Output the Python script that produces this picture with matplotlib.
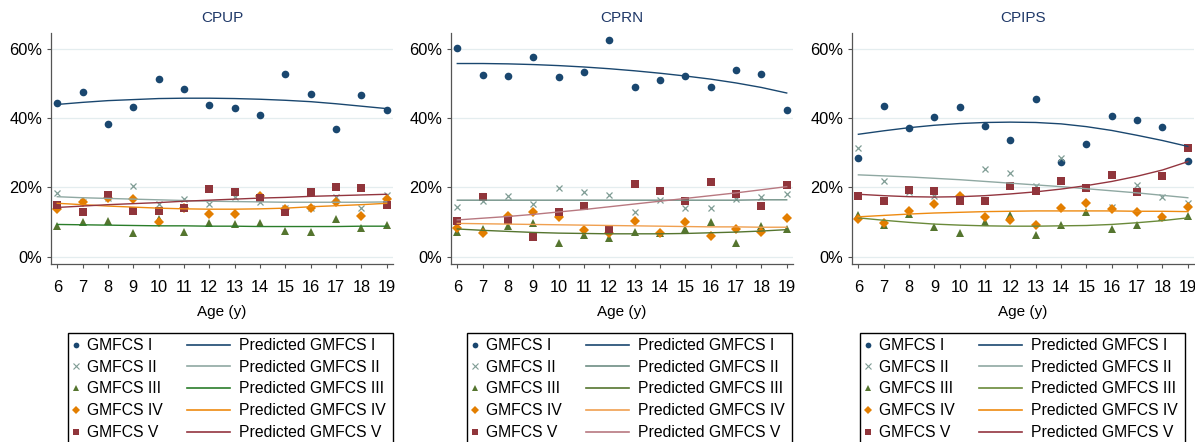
import matplotlib
matplotlib.use("Agg")
import matplotlib.pyplot as plt
from matplotlib.lines import Line2D
from matplotlib.patches import Rectangle

plt.rcParams["font.family"] = ["Liberation Sans", "DejaVu Sans"]

ages = list(range(6, 20))
groups = ["GMFCS I", "GMFCS II", "GMFCS III", "GMFCS IV", "GMFCS V"]

# CPUP
cpup_I = [44.3, 47.6, 38.2, 43.2, 51.3, 48.4, 43.7, 42.8, 40.8, 52.7, 46.9, 36.9, 46.7, 42.3]
cpup_II = [18.3, 15.8, 16.8, 20.5, 15.1, 16.7, 15.3, 17.3, 15.7, 14.1, 14.1, 17.3, 14.1, 17.8]
cpup_III = [8.9, 9.9, 10.3, 6.9, 10.9, 7.2, 9.8, 9.3, 9.6, 7.5, 7.0, 10.9, 8.2, 9.1]
cpup_IV = [13.8, 15.8, 17.0, 16.5, 10.0, 14.1, 12.4, 12.3, 17.5, 13.8, 14.1, 15.8, 11.6, 16.5]
cpup_V = [15.0, 13.0, 17.9, 13.2, 13.1, 14.1, 19.4, 18.6, 17.0, 12.8, 18.6, 20.0, 19.7, 14.8]
cpup_pI = [43.9, 44.5, 45.0, 45.3, 45.6, 45.7, 45.7, 45.6, 45.4, 45.1, 44.7, 44.1, 43.4, 42.7]
cpup_pII = [17.3, 17.0, 16.8, 16.6, 16.4, 16.2, 16.0, 15.9, 15.8, 15.7, 15.7, 15.7, 15.7, 15.8]
cpup_pIII = [9.3, 9.2, 9.1, 9.0, 8.9, 8.9, 8.8, 8.8, 8.7, 8.7, 8.7, 8.7, 8.8, 8.8]
cpup_pIV = [15.4, 15.0, 14.6, 14.3, 14.0, 13.8, 13.7, 13.7, 13.8, 14.0, 14.4, 14.7, 15.0, 15.4]
cpup_pV = [14.2, 14.6, 15.0, 15.3, 15.6, 16.0, 16.3, 16.6, 16.9, 17.1, 17.4, 17.6, 17.8, 18.0]

# CPRN
cprn_I = [60.2, 52.4, 52.2, 57.5, 51.9, 53.3, 62.4, 49.0, 51.0, 52.1, 48.8, 53.7, 52.6, 42.3]
cprn_II = [14.3, 16.1, 17.4, 15.1, 19.9, 18.6, 17.7, 12.8, 16.3, 14.1, 14.1, 16.5, 17.3, 18.1]
cprn_III = [7.2, 8.1, 8.9, 9.8, 4.0, 6.3, 5.3, 7.2, 6.8, 8.0, 9.9, 4.0, 8.9, 8.0]
cprn_IV = [8.4, 6.7, 11.6, 12.8, 11.5, 7.7, 6.9, 10.3, 6.9, 10.0, 6.1, 8.1, 7.0, 11.3]
cprn_V = [10.4, 17.2, 10.6, 5.7, 13.0, 14.7, 7.9, 21.0, 19.0, 16.1, 21.5, 18.2, 14.7, 20.7]
cprn_pI = [55.7, 55.7, 55.6, 55.4, 55.1, 54.7, 54.2, 53.6, 52.9, 52.1, 51.2, 50.1, 48.8, 47.2]
cprn_pII = [16.3, 16.3, 16.3, 16.3, 16.3, 16.3, 16.3, 16.3, 16.3, 16.3, 16.3, 16.3, 16.4, 16.4]
cprn_pIII = [8.0, 7.6, 7.3, 7.0, 6.8, 6.7, 6.6, 6.6, 6.6, 6.7, 6.9, 7.1, 7.4, 7.8]
cprn_pIV = [9.6, 9.5, 9.4, 9.3, 9.2, 9.1, 9.0, 8.9, 8.8, 8.7, 8.6, 8.6, 8.5, 8.5]
cprn_pV = [10.6, 11.1, 11.6, 12.2, 12.9, 13.6, 14.4, 15.2, 16.0, 16.8, 17.6, 18.4, 19.3, 20.2]

# CPIPS
cpips_I = [28.5, 43.4, 37.0, 40.2, 43.2, 37.8, 33.6, 45.5, 27.2, 32.6, 40.7, 39.3, 37.5, 27.6]
cpips_II = [31.4, 21.7, 18.7, 17.5, 17.3, 25.2, 24.0, 20.5, 28.5, 19.8, 14.4, 20.6, 17.1, 15.4]
cpips_III = [12.1, 9.1, 12.4, 8.6, 6.9, 9.9, 11.9, 6.4, 9.0, 13.0, 8.0, 9.1, 11.4, 11.6]
cpips_IV = [10.9, 9.8, 13.3, 15.3, 17.5, 11.5, 10.5, 9.1, 14.0, 15.4, 13.7, 12.9, 11.4, 14.4]
cpips_V = [17.6, 16.1, 19.3, 18.9, 16.1, 16.1, 20.5, 19.0, 21.9, 19.9, 23.5, 18.6, 23.2, 31.4]
cpips_pI = [35.3, 36.3, 37.2, 37.9, 38.4, 38.7, 38.8, 38.7, 38.3, 37.5, 36.4, 35.0, 33.5, 31.8]
cpips_pII = [23.6, 23.3, 23.0, 22.6, 22.2, 21.7, 21.2, 20.7, 20.2, 19.6, 19.0, 18.4, 17.7, 17.0]
cpips_pIII = [11.2, 10.5, 9.9, 9.4, 9.1, 8.9, 8.8, 8.8, 8.9, 9.0, 9.3, 9.8, 10.4, 11.2]
cpips_pIV = [11.5, 11.9, 12.3, 12.6, 12.8, 13.0, 13.1, 13.2, 13.2, 13.2, 13.2, 13.1, 13.1, 13.0]
cpips_pV = [18.0, 17.6, 17.3, 17.2, 17.3, 17.6, 18.1, 18.7, 19.5, 20.5, 21.7, 23.2, 25.0, 27.4]

panels = [
    ("CPUP", [cpup_I, cpup_II, cpup_III, cpup_IV, cpup_V],
     [cpup_pI, cpup_pII, cpup_pIII, cpup_pIV, cpup_pV]),
    ("CPRN", [cprn_I, cprn_II, cprn_III, cprn_IV, cprn_V],
     [cprn_pI, cprn_pII, cprn_pIII, cprn_pIV, cprn_pV]),
    ("CPIPS", [cpips_I, cpips_II, cpips_III, cpips_IV, cpips_V],
     [cpips_pI, cpips_pII, cpips_pIII, cpips_pIV, cpips_pV]),
]

mcolors = ["#1a476f", "#7f9c94", "#55752f", "#e37e00", "#90353b"]
markers = ["o", "x", "^", "D", "s"]
msizes = [5.5, 5, 6, 5, 5.5]
line_colors = [
    ["#1a476f", "#8fa8a2", "#2a7d2a", "#ee8a10", "#93353f"],
    ["#1a476f", "#6e8e84", "#55752f", "#f0a050", "#b87880"],
    ["#1a476f", "#8fa8a2", "#6a8a3a", "#ee8a10", "#93353f"],
]

W, H = 1195, 442
ax_left = [50.7, 450.7, 851.8]
leg_left = [68, 467, 860]
ax_top, ax_bot, ax_w = 33, 263.5, 342.6

fig = plt.figure(figsize=(W / 100, H / 100), dpi=100)

for k, (name, obs, pred) in enumerate(panels):
    ax = fig.add_axes([ax_left[k] / W, 1 - ax_bot / H, ax_w / W, (ax_bot - ax_top) / H])
    for i in range(5):
        ax.plot(ages, obs[i], ls="none", marker=markers[i], color=mcolors[i],
                ms=msizes[i], mew=0.9 if markers[i] == "x" else 0, zorder=3)
    for i in range(5):
        ax.plot(ages, pred[i], color=line_colors[k][i], lw=1.0, zorder=4)

    ax.set_xlim(5.74, 19.26)
    ax.set_ylim(-1.96, 64.5)
    ax.set_xticks(ages)
    ax.set_yticks([0, 20, 40, 60])
    ax.set_yticklabels(["0%", "20%", "40%", "60%"])
    ax.yaxis.grid(True, color="#e4edef", lw=0.9)
    ax.set_axisbelow(True)
    for s in ["top", "right"]:
        ax.spines[s].set_visible(False)
    for s in ["left", "bottom"]:
        ax.spines[s].set_color("#555555")
        ax.spines[s].set_linewidth(0.9)
    ax.tick_params(axis="y", direction="out", length=3, width=0.8, color="#555555",
                   labelsize=11.8, pad=3)
    ax.tick_params(axis="x", direction="out", length=3, width=0.8, color="#555555",
                   labelsize=11.8, pad=9)
    ax.set_title(name, color="#1f3868", fontsize=11, pad=8)
    ax.set_xlabel("Age (y)", fontsize=11, labelpad=7)

    # legend frame + two column legends
    fl = leg_left[k]
    fig.patches.append(Rectangle((fl / W, 1 - 460 / H), 325 / W, (460 - 333) / H,
                                 transform=fig.transFigure, fill=False,
                                 edgecolor="black", lw=1.0))
    mh = [Line2D([], [], ls="none", marker=markers[i], color=mcolors[i],
                 ms=msizes[i] * 0.75, mew=0.8 if markers[i] == "x" else 0)
          for i in range(5)]
    lh = [Line2D([], [], color=line_colors[k][i], lw=1.2) for i in range(5)]
    common = dict(loc="upper left", bbox_transform=fig.transFigure, frameon=False,
                  borderpad=0, borderaxespad=0, labelspacing=0.43, fontsize=11.3)
    fig.legend(mh, groups, bbox_to_anchor=((fl + 3) / W, 1 - 338 / H),
               handlelength=0.64, handletextpad=0.38, numpoints=1, **common)
    fig.legend(lh, ["Predicted " + g for g in groups],
               bbox_to_anchor=((fl + 119) / W, 1 - 338 / H),
               handlelength=2.74, handletextpad=0.57, **common)

fig.savefig("out.png", dpi=100)
